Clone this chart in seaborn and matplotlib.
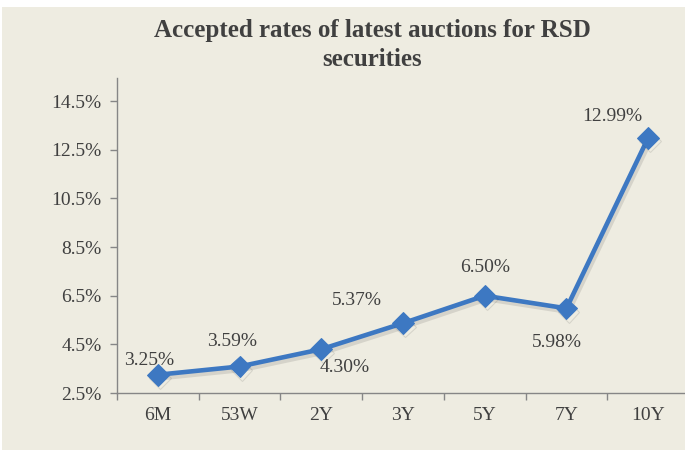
import matplotlib
matplotlib.use("Agg")
import matplotlib.pyplot as plt
import matplotlib.patheffects as pe
import seaborn as sns
import pandas as pd

# data
tenors = ["6M", "53W", "2Y", "3Y", "5Y", "7Y", "10Y"]
rates = [3.25, 3.59, 4.30, 5.37, 6.50, 5.98, 12.99]
yticks = [2.5, 4.5, 6.5, 8.5, 10.5, 12.5, 14.5]

# label offsets in pixels (dx, dy) from each point
label_offsets = [(-9, 14), (-8, 25), (23, -18), (-46, 23), (0, 28), (-10, -34), (-36, 21)]

bg = "#EEECE1"
txt = "#404040"
line_col = "#3D78C2"

sns.set_theme(style="white")
plt.rcParams["font.family"] = ["Liberation Serif", "DejaVu Serif"]

df = pd.DataFrame({"tenor": tenors, "rate": rates})

fig = plt.figure(figsize=(6.85, 4.5), dpi=100)
fig.patch.set_facecolor("white")
fig.patches.append(plt.Rectangle((0.003, 0.0), 0.997, 0.984, transform=fig.transFigure,
                                 facecolor=bg, edgecolor="none", zorder=-10))

ax = fig.add_axes([117 / 685, 1 - 393 / 450, 572 / 685, 315 / 450])
ax.set_facecolor("none")

shadow = [pe.SimpleLineShadow(offset=(1.5, -2.5), alpha=0.13, shadow_color="#303030"), pe.Normal()]
sns.lineplot(data=df, x="tenor", y="rate", ax=ax, color=line_col, linewidth=3.3,
             marker="D", markersize=11, markeredgecolor=line_col, sort=False,
             path_effects=shadow)

for i, (r, (dx, dy)) in enumerate(zip(rates, label_offsets)):
    ax.annotate(f"{r:.2f}%", (i, r), xytext=(dx * 0.72, dy * 0.72),
                textcoords="offset points", ha="center", va="center",
                fontsize=14, color=txt)

ax.set_xlim(-0.5, 6.5)
ax.set_ylim(2.5, 15.45)
ax.set_yticks(yticks)
ax.set_yticklabels([f"{t}%" for t in yticks])
ax.set_xticks(range(len(tenors)))
ax.set_xticklabels(tenors)
ax.set_xticks([i - 0.5 for i in range(len(tenors) + 1)], minor=True)

ax.tick_params(axis="x", which="major", length=0, pad=10, labelsize=14, labelcolor=txt)
ax.tick_params(axis="x", which="minor", length=5, width=1, color="#868686", direction="out", bottom=True)
ax.tick_params(axis="y", length=5, width=1, color="#868686", direction="out", left=True,
               pad=6, labelsize=14, labelcolor=txt)

for side in ["top", "right"]:
    ax.spines[side].set_visible(False)
for side in ["left", "bottom"]:
    ax.spines[side].set_color("#868686")
    ax.spines[side].set_linewidth(1)

ax.set_xlabel("")
ax.set_ylabel("")

fig.text(0.543, 1 - 45 / 450, "Accepted rates of latest auctions for RSD\nsecurities",
         ha="center", va="center", fontsize=18, fontweight="bold", color=txt, linespacing=1.35)

fig.savefig("out.png", dpi=100, facecolor=fig.get_facecolor())
